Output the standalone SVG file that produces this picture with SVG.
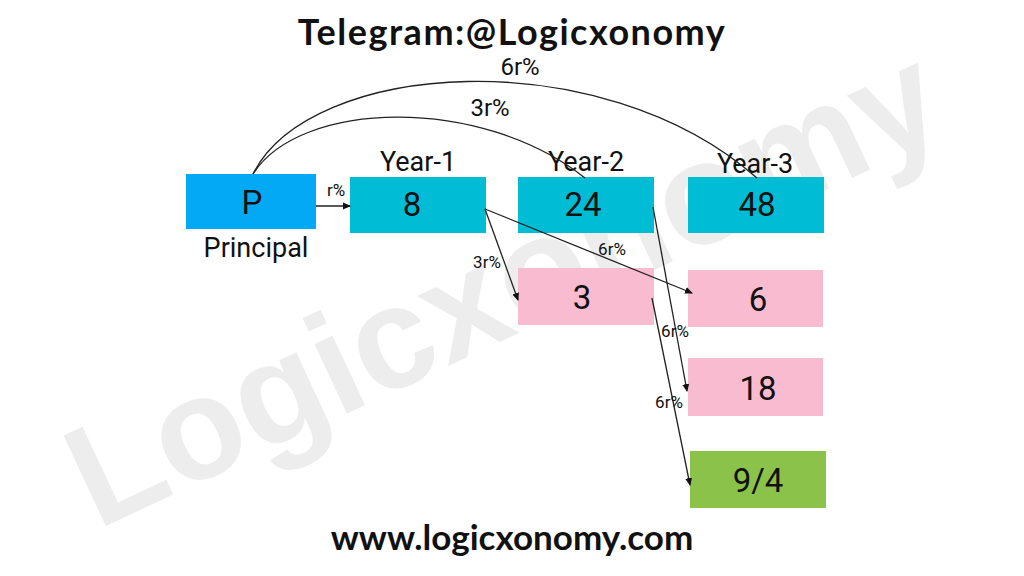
<svg xmlns="http://www.w3.org/2000/svg" width="1024" height="576" viewBox="0 0 1024 576">
<defs>
<marker id="ah" markerWidth="8" markerHeight="8" refX="7" refY="4" orient="auto" markerUnits="userSpaceOnUse">
<path d="M0,0.5 L8,4 L0,7.5 z" fill="#111"/>
</marker>
<style>
.box-text{font-family:Roboto,"Liberation Sans",sans-serif;font-size:33px;fill:#111;text-anchor:middle;dominant-baseline:central}
.year{font-family:Roboto,"Liberation Sans",sans-serif;font-size:27px;fill:#111;text-anchor:middle}
.lbl{font-family:Roboto,"Liberation Sans",sans-serif;font-size:17px;fill:#111;text-anchor:middle}
.arc-lbl{font-family:Roboto,"Liberation Sans",sans-serif;font-size:24px;fill:#111;text-anchor:middle}
.conn{fill:none;stroke:#222;stroke-width:1.3}
.head{font-family:"Lato","Open Sans",sans-serif;font-weight:bold;fill:#111;text-anchor:middle}
</style>
</defs>
<rect width="1024" height="576" fill="#fff"/>
<text x="505" y="335" transform="rotate(-25 505 290)" font-family="'Liberation Sans',Arial,sans-serif" font-weight="bold" font-size="145" fill="#ededed" text-anchor="middle">Logicxonomy</text>
<text class="head" x="512" y="45" font-size="36" letter-spacing="1.5">Telegram:@Logicxonomy</text>
<text class="head" x="512" y="550" font-size="35">www.logicxonomy.com</text>

<g id="nodes">
<g id="n-P"><rect x="186" y="174" width="130" height="55" fill="#03A9F4"/><text class="box-text" x="252" y="202">P</text><text class="year" x="256" y="257">Principal</text></g>
<g id="n-8"><rect x="350" y="177" width="136" height="56" fill="#00BCD4"/><text class="box-text" x="412" y="204">8</text><text class="year" x="418" y="171">Year-1</text></g>
<g id="n-24"><rect x="518" y="177" width="136" height="56" fill="#00BCD4"/><text class="box-text" x="583" y="204">24</text><text class="year" x="586" y="171">Year-2</text></g>
<g id="n-48"><rect x="688" y="177" width="136" height="56" fill="#00BCD4"/><text class="box-text" x="757" y="204">48</text><text class="year" x="755" y="173">Year-3</text></g>
<g id="n-3"><rect x="518" y="268" width="136" height="57" fill="#F8BBD0"/><text class="box-text" x="582" y="297">3</text></g>
<g id="n-6"><rect x="688" y="270" width="135" height="57" fill="#F8BBD0"/><text class="box-text" x="758" y="299">6</text></g>
<g id="n-18"><rect x="688" y="358" width="135" height="58" fill="#F8BBD0"/><text class="box-text" x="758" y="388">18</text></g>
<g id="n-94"><rect x="690" y="451" width="136" height="57" fill="#8BC34A"/><text class="box-text" x="758" y="480">9/4</text></g>
</g>

<g id="connectors">
<path class="conn" d="M316,206 L350,206" marker-end="url(#ah)"/>
<text class="lbl" x="336" y="196" font-size="12">r%</text>
<path class="conn" d="M253,174 C300,100 480,95 585,178"/>
<text class="arc-lbl" x="490" y="116">3r%</text>
<path class="conn" d="M253,174 C310,60 600,40 757,178"/>
<text class="arc-lbl" x="520" y="75">6r%</text>
<path class="conn" d="M485,209 L518,300" marker-end="url(#ah)"/>
<text class="lbl" x="487" y="268">3r%</text>
<path class="conn" d="M485,209 L692,293" marker-end="url(#ah)"/>
<text class="lbl" x="612" y="255">6r%</text>
<path class="conn" d="M653,207 L687,391" marker-end="url(#ah)"/>
<text class="lbl" x="675" y="337">6r%</text>
<path class="conn" d="M652,298 L690,485" marker-end="url(#ah)"/>
<text class="lbl" x="669" y="408">6r%</text>
</g>
</svg>
